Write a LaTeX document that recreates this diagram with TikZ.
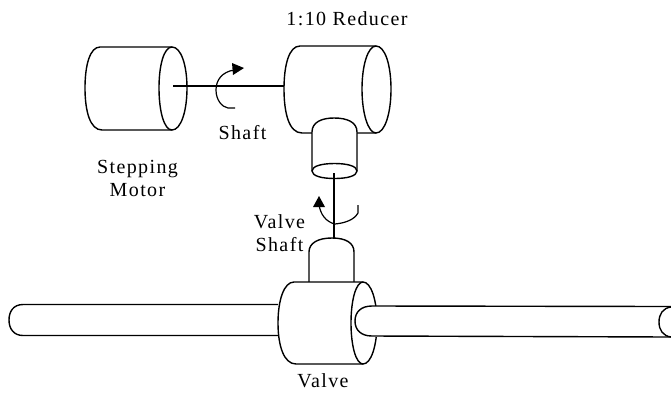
\documentclass[tikz,border=0pt]{standalone}
\usepackage{fontspec}
\setmainfont{Liberation Serif}[LetterSpace=7]
\tikzset{
  part/.style={line width=1.4pt,line join=round,fill=white},
  rod/.style={line width=2.2pt},
  turn/.style={line width=1.2pt},
  lab/.style={font=\fontsize{20pt}{23.5pt}\selectfont,align=center,inner sep=0pt,text=black},
  tip/.style={fill=black,draw=none}
}
\begin{document}
\begin{tikzpicture}[x=1pt,y=-1pt]
\useasboundingbox (0,0) rectangle (671,392);
% pipes
\draw[part,fill=none] (278,304.5) -- (23,304.5) .. controls (13,304.5) and (9,312) .. (9,320) .. controls (9,329) and (14,335.5) .. (23,335.5) -- (278,335.5);
% valve stub
\draw[part] (309,283) -- (309,252) .. controls (309,243) and (318,238) .. (332,238) .. controls (346,238) and (354,243) .. (354,252) -- (354,283);
% valve body
\draw[part] (363,282) -- (294,282) .. controls (284,282) and (278,300) .. (278,323) .. controls (278,346) and (284,364) .. (296,364) -- (363,364);
\draw[part] (363,282) .. controls (371,282) and (377,300) .. (377,323) .. controls (377,346) and (371,364) .. (363,364) .. controls (356,364) and (351,346) .. (351,323) .. controls (351,300) and (356,282) .. (363,282);
% right pipe
\draw[part,fill=white,draw=none] (355,306) rectangle (671,337);
\draw[part,fill=none] (671,306.5) -- (372,306) .. controls (361,306) and (355,312) .. (355,321) .. controls (355,330) and (361,336) .. (372,336) -- (671,337);
\draw[part,fill=none] (671,307) .. controls (663,308) and (659,314) .. (659,322) .. controls (659,330) and (663,336) .. (671,337);
% motor
\draw[part] (172,47) -- (100,47) .. controls (90,47) and (85,65) .. (85,88) .. controls (85,111) and (90,130) .. (102,130) -- (172,130);
\draw[part] (172,47) .. controls (181,47) and (187,65) .. (187,88) .. controls (187,111) and (181,130) .. (172,130) .. controls (164,130) and (159,111) .. (159,88) .. controls (159,65) and (164,47) .. (172,47);
% reducer
\draw[part] (376,46) -- (300,46) .. controls (289,46) and (284,65) .. (284,89) .. controls (284,113) and (289,133) .. (302,133) -- (376,133);
\draw[part] (376,46) .. controls (385,46) and (391,65) .. (391,89) .. controls (391,113) and (385,133) .. (376,133) .. controls (368,133) and (362,113) .. (362,89) .. controls (362,65) and (368,46) .. (376,46);
% small cylinder
\draw[part] (312,171) -- (312,132) .. controls (312,122) and (322,118) .. (334,118) .. controls (347,118) and (357,122) .. (357,132) -- (357,171);
\draw[part] (334.5,163.5) .. controls (347,163.5) and (357,166) .. (357,171) .. controls (357,176) and (347,178.5) .. (334.5,178.5) .. controls (322,178.5) and (312,176) .. (312,171) .. controls (312,166) and (322,163.5) .. (334.5,163.5);
% rods
\coordinate (s1) at (173,86); \coordinate (s2) at (284,86);
\coordinate (v1) at (334,173); \coordinate (v2) at (334,238);
\draw[rod] (s1) -- (s2);
\draw[rod] (v1) -- (v2);
% rotation arrows
\draw[turn] (235,108) -- (228,108) .. controls (222,107) and (216,100) .. (216,90) .. controls (216,80) and (222,72) .. (234,70);
\fill[tip] (244,68) -- (232,63) -- (233,75) -- cycle;
\draw[turn] (358,205) -- (358,213) .. controls (354,220) and (345,223) .. (335,224) .. controls (326,222) and (320,214) .. (319,204);
\fill[tip] (319,196) -- (313,207) -- (325,207) -- cycle;
% labels
\node[lab,anchor=base] (reducer) at (347,25) {1:10 Reducer};
\node[lab,anchor=base] (shaft) at (242.5,139) {Shaft};
\node[lab] (motor) at (137.5,178.5) {Stepping\\Motor};
\node[lab] (vshaft) at (279.5,233) {Valve\\Shaft};
\node[lab,anchor=base] (valve) at (323,387) {Valve};
\end{tikzpicture}
\end{document}
